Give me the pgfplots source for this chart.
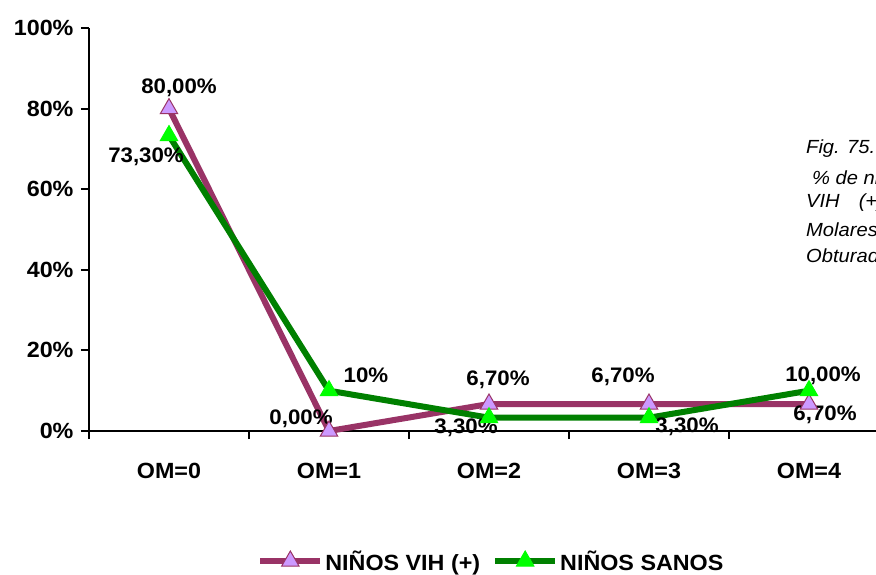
\documentclass[border=0pt]{standalone}
\usepackage{fontspec}
\setmainfont{Liberation Sans}[FakeStretch=1.06]
\usepackage{pgfplots}
\pgfplotsset{compat=1.18}
\definecolor{plum}{HTML}{993366}
\definecolor{lilac}{HTML}{CC99FF}
\definecolor{dgreen}{HTML}{008000}
\definecolor{lgreen}{HTML}{00FF00}
\begin{document}
\begin{tikzpicture}
\begin{axis}[
  at={(0,0)}, anchor=south west,
  scale only axis, width=800pt, height=403pt,
  xmin=-0.5, xmax=4.5, ymin=0, ymax=100,
  axis x line=bottom, axis y line=left,
  axis line style={-, line width=2.5pt, black},
  xtick={-0.5,0.5,1.5,2.5,3.5,4.5},
  x tick label as interval,
  xticklabels={OM=0,OM=1,OM=2,OM=3,OM=4},
  ytick={0,20,40,60,80,100},
  yticklabels={0\%,20\%,40\%,60\%,80\%,100\%},
  tick align=outside, major tick length=8pt,
  tick style={line width=2pt, black},
  ticklabel style={font=\bfseries\fontsize{22}{26}\selectfont},
  xticklabel style={yshift=-21pt},
  yticklabel style={xshift=-4pt},
  clip=false,
  legend style={draw=none, at={(0.503,-0.3226)}, anchor=center,
    legend columns=2, font=\bfseries\fontsize{22}{26}\selectfont,
    /tikz/every even column/.append style={column sep=10pt}},
  legend image code/.code={\draw[mark repeat=2,mark phase=2] plot coordinates {(0pt,0pt)(30pt,0pt)(60pt,0pt)};},
]
\addplot[plum, line width=6pt, mark=triangle*, mark size=10pt,
  mark options={solid, fill=lilac, draw=plum, line width=1pt}]
  coordinates {(0,80)(1,0)(2,6.7)(3,6.7)(4,6.7)};
\addlegendentry{NIÑOS VIH (+)}
\addplot[dgreen, line width=6pt, mark=triangle*, mark size=10pt,
  mark options={solid, fill=lgreen, draw=lgreen, line width=1pt}]
  coordinates {(0,73.3)(1,10)(2,3.3)(3,3.3)(4,10)};
\addlegendentry{NIÑOS SANOS}
\begin{scope}[every node/.style={font=\bfseries\fontsize{21}{25}\selectfont, inner sep=0pt}]
\node[xshift=10pt, yshift=21pt] at (axis cs:0,80) {80,00\%};
\node[xshift=-23pt, yshift=-21pt] at (axis cs:0,73.3) {73,30\%};
\node[xshift=37pt, yshift=15pt] at (axis cs:1,10) {10\%};
\node[xshift=-28pt, yshift=12pt] at (axis cs:1,0) {0,00\%};
\node[xshift=9pt, yshift=24pt] at (axis cs:2,6.7) {6,70\%};
\node[xshift=-23pt, yshift=-10pt] at (axis cs:2,3.3) {3,30\%};
\node[xshift=-26pt, yshift=27pt] at (axis cs:3,6.7) {6,70\%};
\node[xshift=38pt, yshift=-9pt] at (axis cs:3,3.3) {3,30\%};
\node[xshift=14pt, yshift=15pt] at (axis cs:4,10) {10,00\%};
\node[xshift=16pt, yshift=-11pt] at (axis cs:4,6.7) {6,70\%};
\end{scope}
\end{axis}
\begin{scope}[every node/.style={anchor=west, inner sep=0pt, font=\itshape\fontsize{19}{23}\selectfont}]
\node at (717pt,283pt) {Fig. 75. Distribución del};
\node at (723pt,253pt) {\% de niños};
\node at (717pt,228pt) {VIH\hspace{19pt}(+) y sanos};
\node at (717pt,201pt) {Molares};
\node at (717pt,175pt) {Obturados};
\end{scope}
\pgfresetboundingbox
\path[use as bounding box] (-89pt,-143pt) rectangle (787pt,431pt);
\end{tikzpicture}
\end{document}
